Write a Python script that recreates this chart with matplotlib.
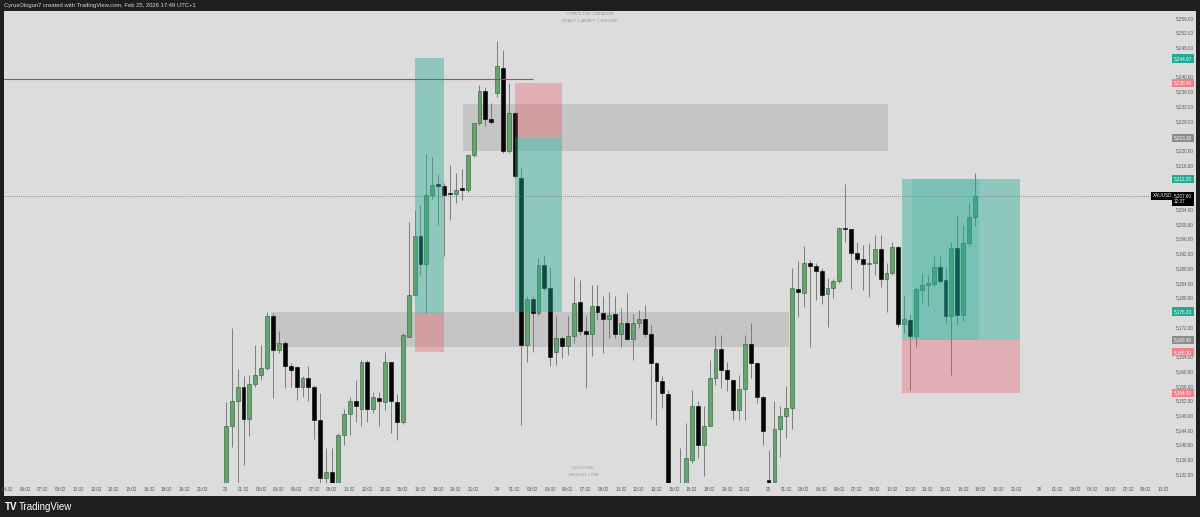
import matplotlib.pyplot as plt
from matplotlib.patches import Rectangle
from matplotlib.transforms import blended_transform_factory

plt.rcParams['font.family'] = ['Liberation Sans', 'DejaVu Sans']

# 30 minute candles, index 0 = first bar of the "23" session
opens = [5127.8, 5145.2, 5152.0, 5155.8, 5147.1, 5156.6, 5159.0, 5160.9, 5175.0, 5165.8,
         5167.7, 5161.5, 5161.2, 5155.7, 5158.0, 5155.7, 5146.6, 5131.0, 5132.7, 5128.3,
         5142.7, 5148.4, 5152.0, 5149.8, 5162.6, 5149.8, 5152.8, 5151.5, 5162.5, 5151.5,
         5146.3, 5169.4, 5180.7, 5196.8, 5189.2, 5207.9, 5210.6, 5210.4, 5208.2, 5208.2,
         5209.5, 5209.3, 5218.8, 5227.4, 5236.2, 5228.5, 5235.5, 5242.3, 5219.7, 5230.1,
         5212.5, 5167.2, 5179.6, 5175.8, 5188.9, 5182.6, 5165.3, 5169.0, 5166.9, 5169.6,
         5178.7, 5170.8, 5170.2, 5177.6, 5175.9, 5174.1, 5175.6, 5170.2, 5173.2, 5168.7,
         5173.2, 5174.1, 5170.2, 5162.3, 5157.2, 5153.8, 5127.5, 5121.0, 5127.0, 5135.9,
         5150.4, 5140.0, 5145.2, 5158.1, 5166.0, 5160.4, 5157.7, 5149.5, 5155.1, 5167.4,
         5162.3, 5153.1, 5130.5, 5130.0, 5144.3, 5147.9, 5150.0, 5182.3, 5181.2, 5189.4,
         5188.6, 5187.3, 5181.0, 5182.6, 5184.4, 5198.9, 5198.6, 5192.2, 5190.4, 5189.1,
         5189.5, 5193.2, 5185.1, 5186.6, 5193.7, 5172.9, 5173.9, 5169.6, 5182.1, 5183.4,
         5183.7, 5188.3, 5184.8, 5174.9, 5193.4, 5175.3, 5194.8, 5201.9]
highs = [5151.5, 5171.8, 5160.6, 5158.6, 5159.0, 5167.2, 5167.2, 5176.2, 5175.9, 5170.8,
         5168.1, 5162.3, 5161.5, 5158.6, 5161.3, 5156.3, 5154.1, 5139.2, 5139.2, 5143.2,
         5149.8, 5153.1, 5157.5, 5162.9, 5162.9, 5154.2, 5154.2, 5165.3, 5162.5, 5153.8,
         5170.5, 5200.4, 5203.7, 5205.2, 5219.1, 5218.2, 5213.6, 5211.1, 5216.1, 5213.8,
         5214.9, 5219.1, 5227.5, 5237.8, 5237.3, 5232.8, 5249.6, 5247.3, 5238.3, 5230.5,
         5215.2, 5180.3, 5180.5, 5190.7, 5191.6, 5188.4, 5174.9, 5169.6, 5174.9, 5185.6,
         5184.8, 5174.9, 5183.5, 5183.5, 5180.3, 5181.6, 5180.3, 5177.1, 5181.2, 5175.6,
         5176.7, 5178.0, 5172.6, 5162.5, 5158.6, 5154.9, 5129.0, 5139.1, 5145.9, 5154.9,
         5152.0, 5150.4, 5163.1, 5169.9, 5169.9, 5162.6, 5157.8, 5159.0, 5169.9, 5173.1,
         5162.5, 5153.2, 5138.6, 5151.8, 5150.6, 5156.0, 5188.0, 5189.8, 5193.9, 5190.3,
         5189.4, 5188.0, 5185.3, 5185.0, 5199.3, 5210.9, 5198.7, 5195.2, 5194.3, 5194.8,
         5197.1, 5197.1, 5189.4, 5195.2, 5194.1, 5180.7, 5175.6, 5183.0, 5186.6, 5186.2,
         5191.2, 5191.2, 5188.4, 5195.2, 5202.5, 5199.8, 5205.7, 5213.8]
lows = [5126.4, 5139.5, 5129.7, 5134.6, 5142.4, 5155.8, 5157.7, 5160.4, 5152.8, 5165.0,
        5155.5, 5155.8, 5152.2, 5153.1, 5152.0, 5141.6, 5129.7, 5129.7, 5126.4, 5126.4,
        5140.0, 5142.7, 5146.3, 5145.0, 5146.3, 5148.7, 5145.2, 5149.5, 5143.2, 5141.2,
        5145.7, 5169.4, 5180.3, 5186.2, 5175.8, 5206.7, 5199.8, 5191.2, 5201.1, 5205.7,
        5206.6, 5208.7, 5218.2, 5226.9, 5226.7, 5227.2, 5234.6, 5219.3, 5219.3, 5212.5,
        5145.4, 5162.6, 5165.3, 5175.3, 5182.1, 5161.3, 5161.7, 5163.6, 5164.4, 5167.6,
        5169.9, 5155.4, 5164.0, 5173.9, 5164.9, 5169.0, 5169.0, 5166.5, 5168.5, 5162.9,
        5171.7, 5169.4, 5147.0, 5145.4, 5149.9, 5126.4, 5118.0, 5118.0, 5124.0, 5135.0,
        5136.4, 5131.4, 5145.0, 5156.3, 5155.4, 5154.5, 5146.8, 5146.8, 5146.8, 5158.1,
        5151.3, 5140.0, 5127.8, 5130.0, 5136.8, 5141.8, 5144.3, 5174.7, 5177.4, 5166.5,
        5179.4, 5178.3, 5172.1, 5179.9, 5184.0, 5195.2, 5182.3, 5189.5, 5182.1, 5180.1,
        5186.2, 5183.0, 5176.2, 5186.2, 5172.1, 5170.3, 5154.9, 5166.5, 5178.5, 5177.6,
        5183.2, 5183.9, 5173.1, 5159.0, 5172.6, 5173.5, 5193.9, 5199.5]
closes = [5145.2, 5152.0, 5155.8, 5147.1, 5156.6, 5159.0, 5160.9, 5175.0, 5165.8, 5167.7,
          5161.5, 5160.4, 5155.8, 5158.0, 5155.7, 5146.6, 5130.9, 5132.7, 5127.8, 5142.7,
          5148.4, 5152.0, 5150.6, 5162.6, 5149.8, 5153.0, 5152.0, 5162.5, 5151.8, 5146.3,
          5169.9, 5180.7, 5196.8, 5189.2, 5207.9, 5210.6, 5210.4, 5207.9, 5208.1, 5209.3,
          5209.3, 5218.8, 5227.4, 5236.2, 5228.5, 5227.6, 5242.8, 5219.7, 5230.1, 5212.9,
          5167.2, 5179.6, 5175.8, 5188.9, 5182.6, 5163.8, 5169.0, 5166.7, 5169.6, 5178.5,
          5170.8, 5170.2, 5177.6, 5176.2, 5174.1, 5175.2, 5170.2, 5173.2, 5168.7, 5173.2,
          5174.1, 5170.2, 5162.2, 5157.2, 5154.0, 5127.8, 5121.0, 5126.0, 5136.4, 5150.4,
          5140.0, 5145.2, 5158.1, 5166.0, 5160.4, 5157.8, 5149.5, 5155.1, 5167.4, 5162.3,
          5153.1, 5143.6, 5129.4, 5144.3, 5147.9, 5150.0, 5182.6, 5181.4, 5189.4, 5188.6,
          5187.3, 5180.7, 5182.6, 5184.4, 5198.9, 5198.5, 5192.2, 5190.4, 5189.1, 5189.5,
          5193.2, 5185.1, 5186.6, 5193.7, 5172.9, 5174.1, 5169.6, 5182.3, 5183.4, 5183.9,
          5188.4, 5184.6, 5174.9, 5193.4, 5175.3, 5194.8, 5202.0, 5207.6]

# time axis
day_starts = [-46, 0, 46, 92, 138]
day_labels = ['20', '23', '24', '25', '26']
intraday_labels = ['01:32', '03:02', '04:32', '06:02', '07:32', '09:02', '10:32',
                   '12:02', '13:32', '15:02', '16:32', '18:02', '19:32', '21:02']

# drawings: [start bar, end bar, low price, high price]
gray_zones = [[7.7, 95.5, 5166.5, 5176.2], [40.2, 112.3, 5219.7, 5232.5]]
# long / short tools: [start, end, entry, target, stop]
positions = [[32.0, 37.0, 5175.8, 5245.0, 5165.1],
             [49.0, 57.0, 5223.3, 5176.2, 5238.4],
             [114.6, 134.6, 5168.4, 5212.2, 5154.0]]
filled_part = [116.4, 127.6]
red_line = [5239.3, 52.1]
last_price = 5207.6

price_ticks = list(range(5132, 5257, 4))
tag_prices = [5244.97, 5238.40, 5223.30, 5212.20, 5176.20, 5168.40, 5165.10, 5154.00]
tag_colors = ['#22ab94', '#ef7f89', '#8c8c8c', '#22ab94', '#22ab94', '#8c8c8c', '#ef7f89', '#ef7f89']

bg = '#1e1e1e'
panel = '#dcdcdc'

fig = plt.figure(figsize=(12, 5.17), dpi=100, facecolor=bg)
W, H = 1200, 517
fig.patches.append(Rectangle((4 / W, (H - 496) / H), 1192 / W, 485 / H,
                             transform=fig.transFigure, facecolor=panel,
                             edgecolor='none', zorder=-10))

ax = fig.add_axes([4 / W, (H - 483) / H, 1166 / W, 471 / H])
ax.set_zorder(2)
ax.patch.set_alpha(0)

n = len(opens)
xs = list(range(n))
up = [c >= o for o, c in zip(opens, closes)]

ax.vlines(xs, lows, highs, color='#6d6d6d', linewidth=0.6, zorder=2)
bottoms = [min(o, c) for o, c in zip(opens, closes)]
heights = [max(abs(c - o), 0.35) for o, c in zip(opens, closes)]
face = ['#63a46f' if u else '#050505' for u in up]
edge = ['#2c5a36' if u else '#000000' for u in up]
ax.bar(xs, heights, bottom=bottoms, width=0.66, color=face, edgecolor=edge,
       linewidth=0.4, zorder=2)

for x0, x1, p0, p1 in gray_zones:
    ax.add_patch(Rectangle((x0, p0), x1 - x0, p1 - p0, facecolor='black',
                           alpha=0.1, edgecolor='none', zorder=1))

for x0, x1, entry, target, stop in positions:
    ax.add_patch(Rectangle((x0, min(entry, target)), x1 - x0, abs(target - entry),
                           facecolor='#22ab94', alpha=0.42, edgecolor='none', zorder=3))
    ax.add_patch(Rectangle((x0, min(entry, stop)), x1 - x0, abs(stop - entry),
                           facecolor='#f23645', alpha=0.27, edgecolor='none', zorder=3))

lp = positions[2]
ax.add_patch(Rectangle((filled_part[0], lp[2]), filled_part[1] - filled_part[0],
                       lp[3] - lp[2], facecolor='#22ab94', alpha=0.18,
                       edgecolor='none', zorder=3))

ax.hlines(red_line[0], -40, red_line[1], color='#d63a47', linewidth=0.8, zorder=4)
ax.axhline(last_price, color='#777777', linewidth=0.6, linestyle=(0, (1, 1.5)), zorder=4)

ax.set_xlim(-37.6, 160.05)
ax.set_ylim(5129.6, 5257.6)

tick_pos, tick_lab = [], []
for d0, dname in zip(day_starts, day_labels):
    tick_pos.append(d0)
    tick_lab.append(dname)
    for k, lab in enumerate(intraday_labels):
        tick_pos.append(d0 + 3 * (k + 1))
        tick_lab.append(lab)
keep = [(p, l) for p, l in zip(tick_pos, tick_lab) if -37.6 <= p <= 160]
ax.set_xticks([p for p, l in keep])
ax.set_xticklabels([l for p, l in keep])
ax.tick_params(axis='x', length=0, pad=3, labelsize=3.3, labelcolor='#555555')

# price scale, hiding the ticks that sit under a coloured tag
ax.yaxis.tick_right()
ax.set_yticks(price_ticks)
covered = tag_prices + [last_price]
ax.set_yticklabels(['' if min(abs(p - t) for t in covered) < 1.0 else f'{p:,.2f}'
                    for p in price_ticks])
ax.tick_params(axis='y', length=0, pad=4, labelsize=3.3, labelcolor='#555555')
for s in ax.spines.values():
    s.set_visible(False)

tr = blended_transform_factory(ax.transAxes, ax.transData)
for p, c in zip(tag_prices, tag_colors):
    ax.text(1.0035, p, f'{p:,.2f}', transform=tr, fontsize=3.3, color='white',
            va='center', ha='left', zorder=6, clip_on=False,
            bbox=dict(boxstyle='square,pad=0.35', facecolor=c, edgecolor='none'))
ax.text(1.0035, last_price - 0.8, f'{last_price:,.2f}\n12:37', transform=tr,
        fontsize=3.3, color='white', va='center', ha='left', zorder=6, clip_on=False,
        linespacing=1.1,
        bbox=dict(boxstyle='square,pad=0.35', facecolor='black', edgecolor='none'))
ax.text(1.0022, last_price, 'XAUUSD', transform=tr, fontsize=3.3, color='white',
        va='center', ha='right', zorder=6, clip_on=False,
        bbox=dict(boxstyle='square,pad=0.35', facecolor='black', edgecolor='none'))

# watermarks and header
fig.text(590 / W, 1 - 14 / H, 'CYRUS THE CREATOR', fontsize=3.2, color='#909090',
         ha='center', va='center')
fig.text(590 / W, 1 - 21 / H, 'REACT  |  ADAPT  |  EVOLVE', fontsize=3.0, color='#909090',
         ha='center', va='center')
fig.text(583 / W, 1 - 468 / H, 'GOLD/USD', fontsize=3.2, color='#a0a0a0',
         ha='center', va='center')
fig.text(583 / W, 1 - 475 / H, 'XAUUSD | 30M', fontsize=3.2, color='#a0a0a0',
         ha='center', va='center')
fig.text(4 / W, 1 - 5 / H,
         'CyrusOlogun7 created with TradingView.com, Feb 25, 2026 17:49 UTC+1',
         fontsize=4.2, color='#d8d8d8', ha='left', va='center')
fig.text(5 / W, 1 - 507 / H, 'TV', fontsize=7, color='white', fontweight='bold',
         ha='left', va='center')
fig.text(19 / W, 1 - 507 / H, 'TradingView', fontsize=7, color='white',
         ha='left', va='center')

fig.savefig('out.png', dpi=100, facecolor=bg)
